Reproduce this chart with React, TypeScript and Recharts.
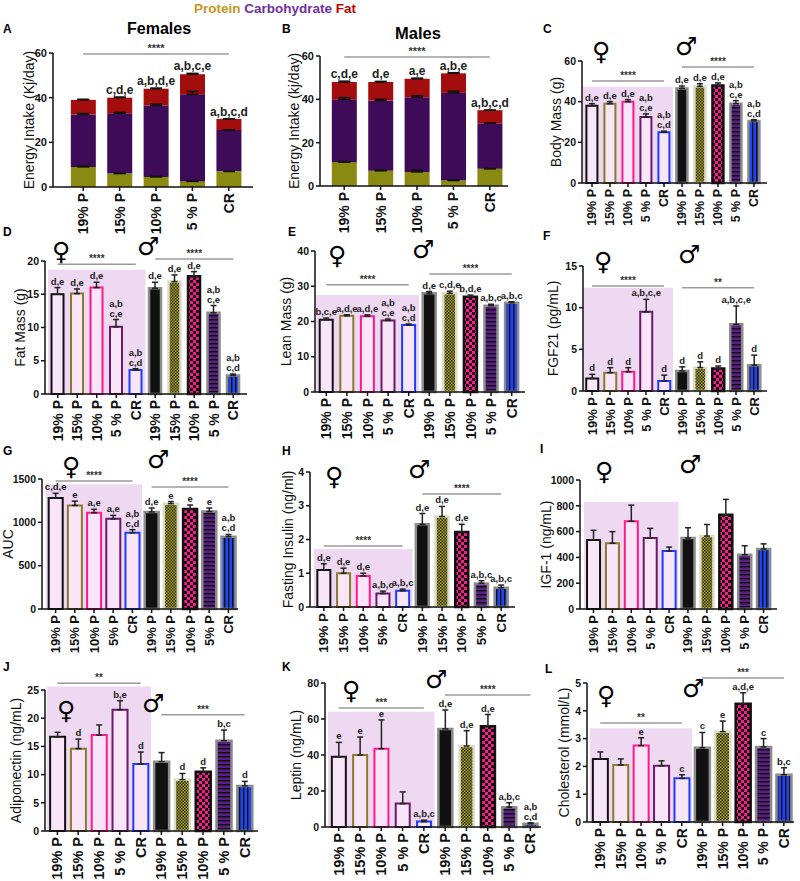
import React from "react";
import {
  BarChart,
  Bar,
  XAxis,
  YAxis,
  Cell,
  ErrorBar,
  LabelList,
  ReferenceArea,
  ReferenceLine,
} from "recharts";

// ---- categories ----
const groupsA = ["19% P", "15% P", "10% P", "5 % P", "CR"];
const groupsB = ["19% P", "15% P", "10% P", "5% P", "CR"];

// ---- A / B: energy intake (stacked, kJ/day) ----
const femProtein = [9, 6, 4.5, 2.5, 7];
const femCarb = [23.5, 27, 32, 39, 18.5];
const femFat = [6.5, 7, 7.5, 9, 5];
const femProteinErr = [0.3, 0.3, 0.3, 0.3, 0];
const femCarbErr = [0.4, 0.4, 0.6, 1.3, 0];
const femFatErr = [0.3, 0.3, 0.3, 0.4, 0];
const femEnergySig = ["", "c,d,e", "a,b,d,e", "a,b,c,e", "a,b,c,d"];

const maleProtein = [11, 7, 6.5, 2.5, 8];
const maleCarb = [29, 32.5, 34.5, 40.5, 21];
const maleFat = [8, 8.5, 8.5, 9, 6];
const maleProteinErr = [0.3, 0.3, 0.8, 0.3, 0];
const maleCarbErr = [0.8, 0.5, 0.7, 0.8, 0];
const maleFatErr = [0.4, 0.3, 0.3, 0.3, 0];
const maleEnergySig = ["c,d,e", "d,e", "a,e", "a,b,e", "a,b,c,d"];

// ---- C..L: first 5 = females, last 5 = males ----
const bodyMass = [38, 39, 40, 32.5, 25, 46.5, 47.5, 48, 39, 30.5];
const bodyMassErr = [1, 1, 1, 1.5, 0.5, 1.2, 1.3, 1.2, 1.5, 0.6];
const bodyMassSig = ["d,e", "d,e", "d,e", "a,b\nc,e", "a,b\nc,d", "d,e", "d,e", "d,e", "a,b\nc,e", "a,b\nc,d"];

const fatMass = [15, 15.1, 16, 10.1, 3.6, 15.9, 16.9, 17.7, 12.2, 2.8];
const fatMassErr = [1, 0.7, 0.8, 1.1, 0.2, 0.9, 1, 0.7, 1.1, 0.2];
const fatMassSig = ["d,e", "d,e", "d,e", "a,b\nc,e", "a,b\nc,d", "d,e", "d,e", "d,e", "a,b\nc,e", "a,b\nc,d"];

const leanMass = [20.5, 21.6, 21.5, 20.3, 19, 28, 28, 27, 24.5, 25.3];
const leanMassErr = [0.5, 0.3, 0.4, 0.4, 0.3, 0.5, 0.6, 0.5, 0.4, 0.3];
const leanMassSig = ["b,c,e", "a,d,e", "a,d,e", "a,b\nc,e", "a,b\nc,d", "d,e", "c,d,e", "b,d,e", "a,b,c", "a,b,c"];

const fgf21 = [1.5, 2.2, 2.3, 9.5, 1.2, 2.4, 2.8, 2.7, 8, 3.1];
const fgf21Err = [0.5, 0.6, 0.5, 1.5, 0.7, 0.5, 0.7, 0.3, 2.2, 1.2];
const fgf21Sig = ["d", "d", "d", "a,b,c,e", "d", "d", "d", "d", "a,b,c,e", "d"];

const auc = [1280, 1195, 1110, 1040, 880, 1120, 1215, 1155, 1125, 835];
const aucErr = [55, 50, 40, 40, 35, 45, 25, 45, 40, 25];
const aucSig = ["c,d,e", "e", "a,e", "a,e", "a,b\nc,d", "d,e", "e", "e", "e", "a,b\nc,d"];

const insulin = [1.1, 1.0, 0.92, 0.4, 0.48, 2.45, 2.68, 2.22, 0.7, 0.57];
const insulinErr = [0.18, 0.15, 0.08, 0.07, 0.05, 0.32, 0.3, 0.23, 0.08, 0.08];
const insulinSig = ["d,e", "d,e", "d,e", "a,b,c", "a,b,c", "d,e", "d,e", "d,e", "a,b,c", "a,b,c"];

const igf1 = [535, 510, 680, 550, 450, 550, 565, 730, 420, 465];
const igf1Err = [75, 90, 125, 75, 30, 80, 90, 120, 70, 40];
const igf1Sig = ["", "", "", "", "", "", "", "", "", ""];

const adiponectin = [16.7, 14.6, 17, 21.5, 11.9, 12.3, 9.1, 10.5, 16, 8];
const adiponectinErr = [0.8, 1.7, 1.8, 1.6, 2.1, 1.6, 1.1, 0.7, 1.9, 0.8];
const adiponectinSig = ["", "d", "", "b,e", "d", "", "d", "d", "b,c", "d"];

const leptin = [39, 40, 43.5, 13, 3, 54.5, 45, 56, 11, 1.8];
const leptinErr = [8, 10, 16, 6.5, 0.8, 10.5, 8.5, 6.5, 2.5, 0.5];
const leptinSig = ["e", "e", "e", "", "a,b,c", "d,e", "d,e", "d,e", "a,b,c", "a,b\nc,d"];

const cholesterol = [2.27, 2.05, 2.75, 2.02, 1.57, 2.67, 3.25, 4.25, 2.7, 1.7];
const cholesterolErr = [0.25, 0.22, 0.28, 0.18, 0.13, 0.55, 0.38, 0.4, 0.3, 0.25];
const cholesterolSig = ["", "", "e", "", "c", "c", "e", "a,d,e", "c", "b,c"];

// ---- styling ----
const BG = "#efd8f2";
const FEM_FILL = "#f8e6f8";
const FEM_STROKE = ["#111111", "#8b7a2e", "#ff1a8c", "#6a1a6a", "#1e3cff"];
const MALE_STROKE = ["#8c8c8c", "#dcdcc8", "#111111", "#8c8c8c", "#8c8c8c"];
const PROT = "#8a8a12";
const CARB = "#3d0b57";
const FATC = "#a30d0d";

const maleFill = (id: string) => [
  "#111111",
  `url(#${id}-olive)`,
  `url(#${id}-check)`,
  `url(#${id}-hstripe)`,
  `url(#${id}-vstripe)`,
];

const patternDefs = (id: string) => (
  <defs>
    <pattern id={`${id}-olive`} width="3" height="3" patternUnits="userSpaceOnUse">
      <rect width="3" height="3" fill="#aaa42a" />
      <rect width="1.5" height="1.5" fill="#2b2a05" />
      <rect x="1.5" y="1.5" width="1.5" height="1.5" fill="#2b2a05" />
    </pattern>
    <pattern id={`${id}-check`} width="6" height="6" patternUnits="userSpaceOnUse">
      <rect width="6" height="6" fill="#ff1a8c" />
      <rect width="3" height="3" fill="#111" />
      <rect x="3" y="3" width="3" height="3" fill="#111" />
    </pattern>
    <pattern id={`${id}-hstripe`} width="4" height="4" patternUnits="userSpaceOnUse">
      <rect width="4" height="4" fill="#5b1d86" />
      <rect width="4" height="1.5" fill="#111" />
    </pattern>
    <pattern id={`${id}-vstripe`} width="4" height="4" patternUnits="userSpaceOnUse">
      <rect width="4" height="4" fill="#1f45f0" />
      <rect width="1.4" height="4" fill="#111" />
    </pattern>
  </defs>
);

const YW = 50;
const MT = 26;
const MR = 4;
const XH = 52;

const xTick = (labels: string[], fs: number) => (p: any) => {
  const i = Number(String(p.payload.value).slice(1));
  return (
    <text
      x={p.x}
      y={p.y}
      transform={`rotate(-90 ${p.x} ${p.y})`}
      textAnchor="end"
      dominantBaseline="central"
      fontSize={fs}
      fontWeight={700}
      fill="#111"
    >
      {labels[i]}
    </text>
  );
};

const sigLabel =
  (sigs: string[], vals: number[], errs: number[], fs: number, lh: number) => (p: any) => {
    const vb = p.viewBox && p.viewBox.width != null ? p.viewBox : p;
    const i = Number(p.value);
    const text = sigs[i] || "";
    if (!text) return null;
    const ratio = vals[i] ? vb.height / vals[i] : 0;
    const top = vb.y - errs[i] * ratio - 3;
    const cx = vb.x + vb.width / 2;
    const lines = text.split("\n");
    return (
      <text key={`s${i}`} textAnchor="middle" fontSize={fs} fontWeight={700} fill="#222">
        {lines.map((ln, j) => (
          <tspan key={j} x={cx} y={top - (lines.length - 1 - j) * lh}>
            {ln}
          </tspan>
        ))}
      </text>
    );
  };

type SigLine = { from: number; to: number; y: number; text: string };

type PanelCfg = {
  id: string;
  x0: number;
  x1: number;
  yTop: number;
  yBot: number;
  max: number;
  ticks: number[];
  means: number[];
  errs: number[];
  sigs: string[];
  cats: string[];
  yLabel: string;
  yLabelDx: number;
  area?: number;
  lines: SigLine[];
  padL: number;
  padR: number;
  catFont: number;
  gap: string;
};

const axisStyle = { stroke: "#111", strokeWidth: 1.5 };

function SexPanel({ cfg }: { cfg: PanelCfg }) {
  const w = YW + (cfg.x1 - cfg.x0) + MR;
  const h = MT + (cfg.yBot - cfg.yTop) + XH;
  const data = cfg.means.map((m, i) => ({
    k: `c${i}`,
    idx: i,
    mean: m,
    eb: [0, cfg.errs[i]],
  }));
  const labels = [...cfg.cats, ...cfg.cats];
  const mf = maleFill(cfg.id);
  return (
    <div style={{ position: "absolute", left: cfg.x0 - YW, top: cfg.yTop - MT }}>
      <BarChart
        width={w}
        height={h}
        data={data}
        margin={{ top: MT, right: MR, left: 0, bottom: 0 }}
        barCategoryGap={cfg.gap}
      >
        {patternDefs(cfg.id)}
        {cfg.area != null && (
          <ReferenceArea
            x1="c0"
            x2="c4"
            y1={0}
            y2={cfg.area}
            fill={BG}
            fillOpacity={1}
            stroke="none"
            ifOverflow="visible"
          />
        )}
        <XAxis
          dataKey="k"
          interval={0}
          height={XH}
          padding={{ left: cfg.padL, right: cfg.padR }}
          tick={xTick(labels, cfg.catFont)}
          axisLine={axisStyle}
          tickLine={axisStyle}
          tickSize={4}
        />
        <YAxis
          width={YW}
          domain={[0, cfg.max]}
          ticks={cfg.ticks}
          interval={0}
          tick={{ fontSize: 10.5, fontWeight: 700, fill: "#111" }}
          axisLine={axisStyle}
          tickLine={axisStyle}
          tickSize={4}
          label={{
            value: cfg.yLabel,
            angle: -90,
            position: "insideLeft",
            offset: YW - cfg.yLabelDx,
            fontSize: 14,
            fill: "#111",
            style: { textAnchor: "middle" },
          }}
        />
        {cfg.lines.map((l, j) => (
          <ReferenceLine
            key={j}
            segment={[
              { x: `c${l.from}`, y: l.y },
              { x: `c${l.to}`, y: l.y },
            ]}
            stroke="#9a9a9a"
            strokeWidth={1.5}
            ifOverflow="visible"
            label={{ value: l.text, position: "top", offset: 2, fontSize: 10, fontWeight: 700, fill: "#333" }}
          />
        ))}
        <Bar dataKey="mean" isAnimationActive={false}>
          {data.map((d, i) =>
            i < 5 ? (
              <Cell key={d.k} fill={FEM_FILL} stroke={FEM_STROKE[i]} strokeWidth={2} />
            ) : (
              <Cell key={d.k} fill={mf[i - 5]} stroke={MALE_STROKE[i - 5]} strokeWidth={2.5} />
            )
          )}
          <ErrorBar dataKey="eb" width={3} stroke="#222" strokeWidth={1.5} direction="y" />
          <LabelList dataKey="idx" content={sigLabel(cfg.sigs, cfg.means, cfg.errs, 9.5, 10)} />
        </Bar>
      </BarChart>
    </div>
  );
}

type EnergyCfg = {
  x0: number;
  x1: number;
  yTop: number;
  yBot: number;
  protein: number[];
  carb: number[];
  fat: number[];
  proteinErr: number[];
  carbErr: number[];
  fatErr: number[];
  sigs: string[];
  yLabel: string;
  yLabelDx: number;
  sigY: number;
  padL: number;
  padR: number;
};

function EnergyPanel({ cfg }: { cfg: EnergyCfg }) {
  const w = YW + (cfg.x1 - cfg.x0) + MR;
  const h = MT + (cfg.yBot - cfg.yTop) + XH;
  const data = cfg.protein.map((p, i) => ({
    k: `c${i}`,
    idx: i,
    p,
    c: cfg.carb[i],
    f: cfg.fat[i],
    pe: [0, cfg.proteinErr[i]],
    ce: [0, cfg.carbErr[i]],
    fe: [0, cfg.fatErr[i]],
  }));
  return (
    <div style={{ position: "absolute", left: cfg.x0 - YW, top: cfg.yTop - MT }}>
      <BarChart
        width={w}
        height={h}
        data={data}
        margin={{ top: MT, right: MR, left: 0, bottom: 0 }}
        barCategoryGap="16%"
      >
        <XAxis
          dataKey="k"
          interval={0}
          height={XH}
          padding={{ left: cfg.padL, right: cfg.padR }}
          tick={xTick(groupsA, 14)}
          axisLine={axisStyle}
          tickLine={axisStyle}
          tickSize={4}
        />
        <YAxis
          width={YW}
          domain={[0, 60]}
          ticks={[0, 20, 40, 60]}
          interval={0}
          tick={{ fontSize: 11, fontWeight: 700, fill: "#111" }}
          axisLine={axisStyle}
          tickLine={axisStyle}
          tickSize={4}
          label={{
            value: cfg.yLabel,
            angle: -90,
            position: "insideLeft",
            offset: YW - cfg.yLabelDx,
            fontSize: 14,
            fill: "#111",
            style: { textAnchor: "middle" },
          }}
        />
        <ReferenceLine
          segment={[
            { x: "c0", y: cfg.sigY },
            { x: "c4", y: cfg.sigY },
          ]}
          stroke="#9a9a9a"
          strokeWidth={1.5}
          ifOverflow="visible"
          label={{ value: "****", position: "top", offset: 2, fontSize: 11, fontWeight: 700, fill: "#333" }}
        />
        <Bar dataKey="p" stackId="s" fill={PROT} isAnimationActive={false}>
          <ErrorBar dataKey="pe" width={6} stroke="#111" strokeWidth={1.5} direction="y" />
        </Bar>
        <Bar dataKey="c" stackId="s" fill={CARB} isAnimationActive={false}>
          <ErrorBar dataKey="ce" width={6} stroke="#111" strokeWidth={1.5} direction="y" />
        </Bar>
        <Bar dataKey="f" stackId="s" fill={FATC} isAnimationActive={false}>
          <ErrorBar dataKey="fe" width={6} stroke="#111" strokeWidth={1.5} direction="y" />
          <LabelList dataKey="idx" content={sigLabel(cfg.sigs, cfg.fat, cfg.fatErr, 12, 12)} />
        </Bar>
      </BarChart>
    </div>
  );
}

const energyA: EnergyCfg = {
  x0: 53, x1: 253, yTop: 53, yBot: 187,
  protein: femProtein, carb: femCarb, fat: femFat,
  proteinErr: femProteinErr, carbErr: femCarbErr, fatErr: femFatErr,
  sigs: femEnergySig, yLabel: "Energy Intake (Kj/day)", yLabelDx: 24, sigY: 59.6, padL: 12, padR: 6,
};
const energyB: EnergyCfg = {
  x0: 320, x1: 508, yTop: 56, yBot: 186,
  protein: maleProtein, carb: maleCarb, fat: maleFat,
  proteinErr: maleProteinErr, carbErr: maleCarbErr, fatErr: maleFatErr,
  sigs: maleEnergySig, yLabel: "Energy Intake  (kj/day)", yLabelDx: 26, sigY: 59.5, padL: 6, padR: 0,
};

const panels: PanelCfg[] = [
  {
    id: "C", x0: 582, x1: 767, yTop: 61, yBot: 183, max: 60, ticks: [0, 20, 40, 60],
    means: bodyMass, errs: bodyMassErr, sigs: bodyMassSig, cats: groupsA,
    yLabel: "Body Mass (g)", yLabelDx: 26, area: 47.3,
    lines: [{ from: 0, to: 4, y: 50.2, text: "****" }, { from: 5, to: 9, y: 57, text: "****" }],
    padL: 1, padR: 4, catFont: 12.5, gap: "19%",
  },
  {
    id: "D", x0: 45, x1: 247, yTop: 261, yBot: 394, max: 20, ticks: [0, 5, 10, 15, 20],
    means: fatMass, errs: fatMassErr, sigs: fatMassSig, cats: groupsA,
    yLabel: "Fat Mass  (g)", yLabelDx: 25, area: 18.7,
    lines: [{ from: 0, to: 4, y: 19.5, text: "****" }, { from: 5, to: 9, y: 20.3, text: "****" }],
    padL: 3, padR: 4, catFont: 14, gap: "18%",
  },
  {
    id: "E", x0: 315, x1: 525, yTop: 251, yBot: 392, max: 40, ticks: [0, 10, 20, 30, 40],
    means: leanMass, errs: leanMassErr, sigs: leanMassSig, cats: groupsA,
    yLabel: "Lean Mass  (g)", yLabelDx: 29, area: 27.5,
    lines: [{ from: 0, to: 4, y: 30.4, text: "****" }, { from: 5, to: 9, y: 33.5, text: "****" }],
    padL: 1, padR: 3, catFont: 14, gap: "18%",
  },
  {
    id: "F", x0: 583, x1: 767, yTop: 266, yBot: 391, max: 15, ticks: [0, 5, 10, 15],
    means: fgf21, errs: fgf21Err, sigs: fgf21Sig, cats: groupsA,
    yLabel: "FGF21  (pg/mL)", yLabelDx: 30, area: 12.4,
    lines: [{ from: 0, to: 4, y: 12.6, text: "****" }, { from: 5, to: 9, y: 12.4, text: "**" }],
    padL: 0, padR: 4, catFont: 13, gap: "18%",
  },
  {
    id: "G", x0: 42, x1: 238, yTop: 479, yBot: 609, max: 1500, ticks: [0, 500, 1000, 1500],
    means: auc, errs: aucErr, sigs: aucSig, cats: groupsB,
    yLabel: "AUC", yLabelDx: 34, area: 1440,
    lines: [{ from: 0, to: 4, y: 1477, text: "****" }, { from: 5, to: 9, y: 1408, text: "****" }],
    padL: 4, padR: 0, catFont: 13, gap: "14%",
  },
  {
    id: "H", x0: 310, x1: 515, yTop: 472, yBot: 607, max: 4, ticks: [0, 1, 2, 3, 4],
    means: insulin, errs: insulinErr, sigs: insulinSig, cats: groupsB,
    yLabel: "Fasting Insulin (ng/ml)", yLabelDx: 22, area: 1.72,
    lines: [{ from: 0, to: 4, y: 1.81, text: "****" }, { from: 5, to: 9, y: 3.35, text: "****" }],
    padL: 4, padR: 4, catFont: 13.5, gap: "17%",
  },
  {
    id: "I", x0: 580, x1: 777, yTop: 480, yBot: 609, max: 1000, ticks: [0, 200, 400, 600, 800, 1000],
    means: igf1, errs: igf1Err, sigs: igf1Sig, cats: groupsA,
    yLabel: "IGF-1  (ng/mL)", yLabelDx: 34, area: 830,
    lines: [],
    padL: 4, padR: 4, catFont: 13, gap: "16%",
  },
  {
    id: "J", x0: 45, x1: 258, yTop: 690, yBot: 831, max: 25, ticks: [0, 5, 10, 15, 20, 25],
    means: adiponectin, errs: adiponectinErr, sigs: adiponectinSig, cats: groupsA,
    yLabel: "Adiponectin (ng/mL)", yLabelDx: 29, area: 25.6,
    lines: [{ from: 0, to: 4, y: 26.2, text: "**" }, { from: 5, to: 9, y: 20.6, text: "***" }],
    padL: 2, padR: 3, catFont: 14.5, gap: "15%",
  },
  {
    id: "K", x0: 325, x1: 541, yTop: 683, yBot: 827, max: 80, ticks: [0, 20, 40, 60, 80],
    means: leptin, errs: leptinErr, sigs: leptinSig, cats: groupsA,
    yLabel: "Leptin (ng/mL)", yLabelDx: 29, area: 64,
    lines: [{ from: 0, to: 4, y: 66.1, text: "***" }, { from: 5, to: 9, y: 73.3, text: "****" }],
    padL: 3, padR: 0, catFont: 14.5, gap: "18%",
  },
  {
    id: "L", x0: 587, x1: 794, yTop: 683, yBot: 822, max: 5, ticks: [0, 1, 2, 3, 4, 5],
    means: cholesterol, errs: cholesterolErr, sigs: cholesterolSig, cats: groupsA,
    yLabel: "Cholesterol  (mmol/L)", yLabelDx: 23, area: 3.37,
    lines: [{ from: 0, to: 4, y: 3.56, text: "**" }, { from: 5, to: 9, y: 5.18, text: "***" }],
    padL: 3, padR: 0, catFont: 14, gap: "14%",
  },
];

const letters = [
  { t: "A", x: 3, y: 23 }, { t: "B", x: 282, y: 23 }, { t: "C", x: 543, y: 23 },
  { t: "D", x: 3, y: 226 }, { t: "E", x: 288, y: 226 }, { t: "F", x: 543, y: 230 },
  { t: "G", x: 3, y: 445 }, { t: "H", x: 282, y: 445 }, { t: "I", x: 540, y: 443 },
  { t: "J", x: 3, y: 661 }, { t: "K", x: 282, y: 661 }, { t: "L", x: 545, y: 663 },
];

const symbols = [
  { f: [592, 43], m: [675, 40] },
  { f: [52, 243], m: [137, 240] },
  { f: [328, 247], m: [412, 243] },
  { f: [594, 253], m: [678, 248] },
  { f: [62, 458], m: [147, 453] },
  { f: [325, 468], m: [408, 463] },
  { f: [595, 463], m: [679, 458] },
  { f: [57, 702], m: [142, 697] },
  { f: [342, 682], m: [425, 673] },
  { f: [597, 687], m: [682, 682] },
];

const abs = (x: number, y: number): React.CSSProperties => ({ position: "absolute", left: x, top: y, lineHeight: 1, whiteSpace: "nowrap" });

export default function App() {
  return (
    <div
      style={{
        position: "absolute",
        left: 0,
        top: 0,
        width: 800,
        height: 881,
        background: "#fff",
        overflow: "hidden",
        fontFamily: "'Liberation Sans', Arial, sans-serif",
      }}
    >
      <EnergyPanel cfg={energyA} />
      <EnergyPanel cfg={energyB} />
      {panels.map((p) => (
        <SexPanel key={p.id} cfg={p} />
      ))}

      <div style={{ ...abs(194, 2), fontSize: 13.5, fontWeight: 700 }}>
        <span style={{ color: "#c8951f" }}>Protein</span>{" "}
        <span style={{ color: "#7030a0" }}>Carbohydrate</span>{" "}
        <span style={{ color: "#c00000" }}>Fat</span>
      </div>
      <div style={{ ...abs(127, 21), fontSize: 16, fontWeight: 700 }}>Females</div>
      <div style={{ ...abs(395, 25), fontSize: 16.5, fontWeight: 700 }}>Males</div>

      {letters.map((l) => (
        <div key={l.t} style={{ ...abs(l.x, l.y), fontSize: 12, fontWeight: 700 }}>
          {l.t}
        </div>
      ))}
      {symbols.map((s, i) => (
        <React.Fragment key={i}>
          <div style={{ ...abs(s.f[0], s.f[1] - 4), fontSize: 25, fontFamily: "'DejaVu Sans'" }}>♀</div>
          <div style={{ ...abs(s.m[0], s.m[1] - 6), fontSize: 25, fontFamily: "'DejaVu Sans'" }}>♂</div>
        </React.Fragment>
      ))}
    </div>
  );
}
